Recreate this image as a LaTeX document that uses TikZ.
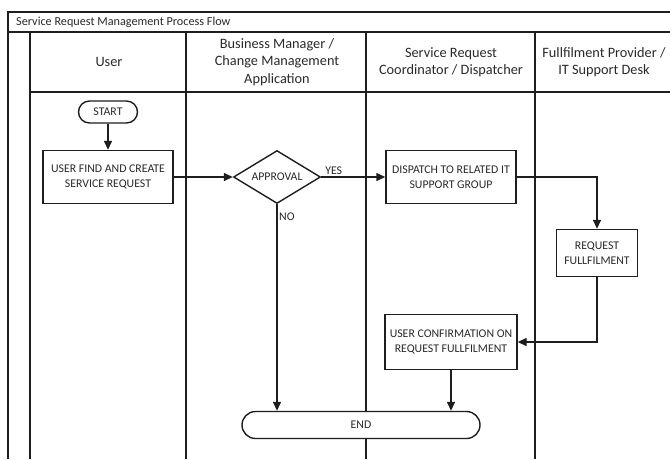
\documentclass[tikz,border=0pt]{standalone}
\usepackage{fontspec}
\setmainfont{Carlito}
\usetikzlibrary{arrows.meta,shapes.geometric}
\definecolor{ink}{HTML}{1E1E1E}
\definecolor{txt}{HTML}{2A2A2A}
\tikzset{
  frame/.style={draw=ink,line width=1.8pt},
  lane/.style={draw=ink,line width=1.6pt},
  procbox/.style={draw=ink,line width=1.4pt,fill=white,inner sep=0pt,align=center,
    font=\fontsize{11.8}{14.5}\selectfont,text=txt},
  terminal/.style={procbox},
  decision/.style={diamond,draw=ink,line width=1.4pt,fill=white,inner sep=0pt,aspect=1.64,
    font=\fontsize{11.8}{14.5}\selectfont,text=txt,minimum width=87pt,minimum height=53pt},
  flow/.style={draw=ink,line width=1.4pt,-{Triangle[length=9pt,width=8pt]}},
  lanehead/.style={align=center,font=\fontsize{14.3}{17.5}\selectfont,text=txt},
  flowlabel/.style={font=\fontsize{11.8}{13}\selectfont,text=txt,inner sep=1.5pt}
}
\begin{document}
\begin{tikzpicture}[x=1pt,y=-1pt]
  \useasboundingbox[fill=white] (0,0) rectangle (670,459);

  % swimlane frame
  \draw[frame] (8,459) -- (8,12) -- (670,12);
  \draw[frame] (8,32) -- (670,32);
  \draw[frame] (30,92) -- (670,92);
  \foreach \lx in {30,186,366,535}
    \draw[lane] (\lx,32) -- (\lx,459);

  % title and lane headings
  \node[anchor=west,font=\fontsize{12.2}{13}\selectfont,text=txt,inner sep=0pt] (title) at (16,22)
    {Service Request Management Process Flow};
  \node[lanehead] (hUser) at (109,62) {User};
  \node[lanehead] (hBiz) at (277,62) {Business Manager /\\Change Management\\Application};
  \node[lanehead] (hCoord) at (451,62) {Service Request\\Coordinator / Dispatcher};
  \node[lanehead] (hFul) at (604,62) {Fullfilment Provider /\\IT Support Desk};

  % process steps
  \node[terminal,rounded corners=11pt,minimum width=59pt,minimum height=22pt] (start) at (108,112) {START};
  \node[procbox,minimum width=130pt,minimum height=53pt] (create) at (108,177)
    {USER FIND AND CREATE\\SERVICE REQUEST};
  \node[decision] (approval) at (277,177) {APPROVAL};
  \node[procbox,minimum width=130pt,minimum height=53pt] (dispatch) at (451,177)
    {DISPATCH TO RELATED IT\\SUPPORT GROUP};
  \node[procbox,minimum width=81pt,minimum height=47pt] (fulfil) at (597,253)
    {REQUEST\\FULLFILMENT};
  \node[procbox,minimum width=132pt,minimum height=55pt] (confirm) at (451,342)
    {USER CONFIRMATION ON\\REQUEST FULLFILMENT};
  \node[terminal,rounded corners=13.5pt,minimum width=238pt,minimum height=27pt] (end) at (361,425) {END};

  % connectors
  \draw[flow] (start) -- (create);
  \draw[flow] (create) -- (approval);
  \draw[flow] (approval) -- node[flowlabel,pos=0.03,anchor=south west] {YES} (dispatch);
  \draw[flow] (dispatch.east) -| (fulfil.north);
  \draw[flow] (fulfil.south) |- (confirm.east);
  \draw[flow] (confirm.south) -- (confirm.south |- end.north);
  \draw[flow] (approval.south) -- node[flowlabel,pos=0.03,anchor=north west] {NO} (approval.south |- end.north);
\end{tikzpicture}
\end{document}
